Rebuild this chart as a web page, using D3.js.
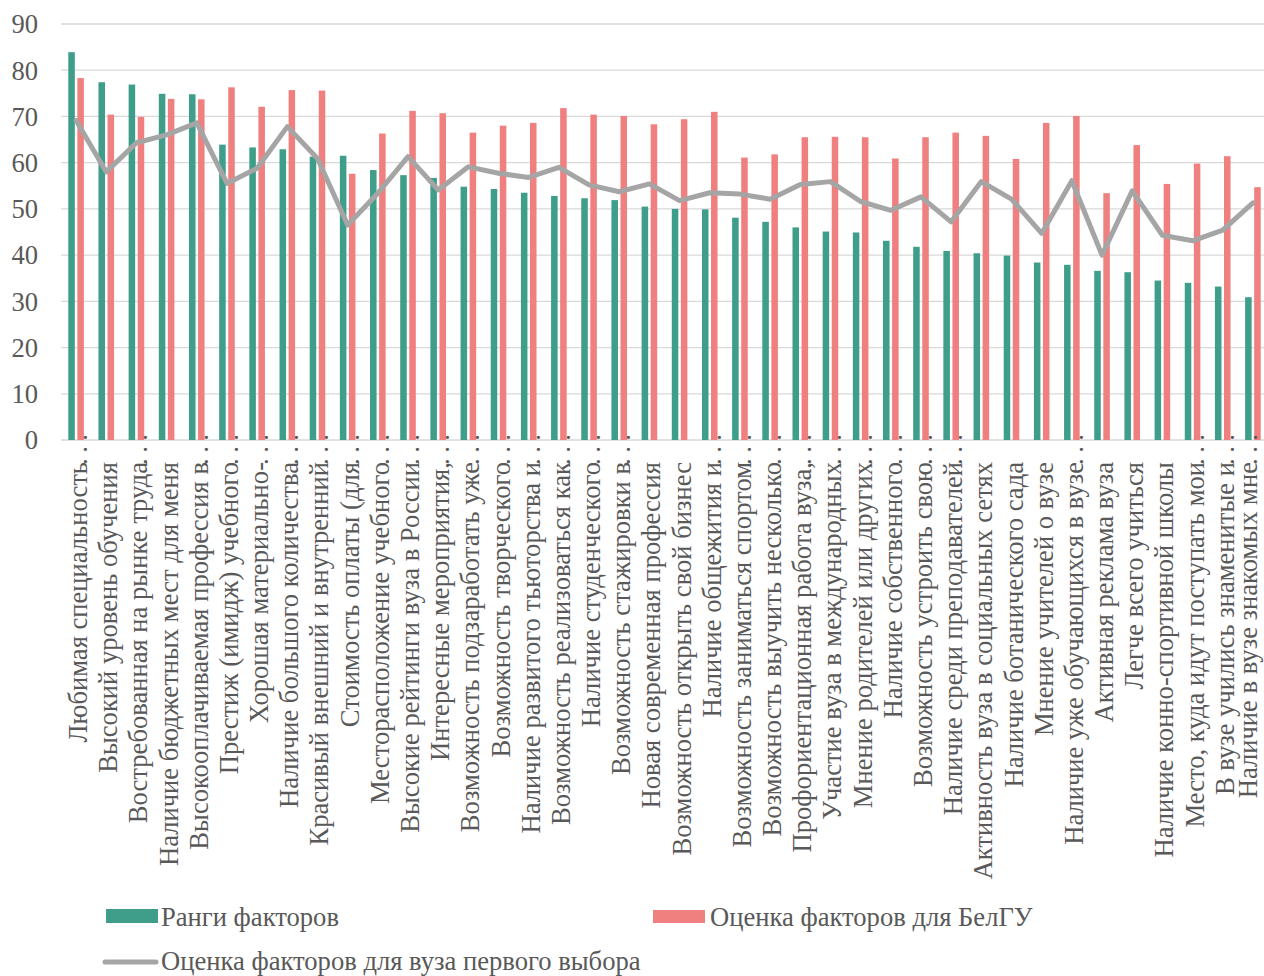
<!DOCTYPE html>
<html><head><meta charset="utf-8">
<script src="https://cdn.jsdelivr.net/npm/d3@7/dist/d3.min.js"></script>
<style>
html,body{margin:0;padding:0;background:#fff;}
svg text{font-family:"Liberation Serif","Times New Roman",serif;fill:#595959;}
</style></head>
<body><svg id="chart" width="1264" height="976"></svg>
<script>
const categories = [
 "Любимая специальность…","Высокий уровень обучения","Востребованная на рынке труда…","Наличие бюджетных мест для меня",
 "Высокооплачиваемая профессия в…","Престиж (имидж) учебного…","Хорошая материально-…","Наличие большого количества…",
 "Красивый внешний и внутренний…","Стоимость оплаты (для…","Месторасположение учебного…","Высокие рейтинги вуза в России…",
 "Интересные мероприятия,…","Возможность подзаработать уже…","Возможность творческого…","Наличие развитого тьюторства и…",
 "Возможность реализоваться как…","Наличие студенческого…","Возможность стажировки в…","Новая современная профессия",
 "Возможность открыть свой бизнес","Наличие общежития и…","Возможность заниматься спортом…","Возможность выучить несколько…",
 "Профориентационная работа вуза,…","Участие вуза в международных…","Мнение родителей или других…","Наличие собственного…",
 "Возможность устроить свою…","Наличие среди преподавателей…","Активность вуза в социальных сетях","Наличие ботанического сада",
 "Мнение учителей о вузе","Наличие уже обучающихся в вузе…","Активная реклама вуза","Легче всего учиться",
 "Наличие конно-спортивной школы","Место, куда идут поступать мои…","В вузе учились знаменитые и…","Наличие в вузе знакомых мне…"
];
const ranks = [83.9,77.4,76.9,74.9,74.8,63.9,63.3,62.9,61.3,61.5,58.4,57.3,56.7,54.8,54.3,53.5,52.8,52.3,51.9,50.5,
 50.0,49.9,48.1,47.2,46.0,45.1,44.9,43.1,41.8,40.9,40.4,39.9,38.4,37.9,36.6,36.3,34.5,34.0,33.2,30.9];
const belsuScores = [78.3,70.4,69.9,73.8,73.7,76.3,72.1,75.7,75.6,57.6,66.3,71.2,70.7,66.5,68.0,68.6,71.8,70.4,70.1,68.3,
 69.4,71.0,61.1,61.8,65.5,65.6,65.5,60.9,65.5,66.5,65.8,60.8,68.6,70.1,53.4,63.8,55.4,59.8,61.4,54.7];
const firstChoiceScores = [69.1,58.0,64.3,66.0,68.6,55.5,58.8,67.8,60.9,46.5,53.4,61.3,54.1,59.1,57.7,56.8,59.0,55.2,53.7,55.4,
 51.8,53.5,53.2,52.1,55.3,55.9,51.6,49.7,52.6,47.2,55.9,52.1,44.7,56.1,40.0,53.9,44.3,43.1,45.4,51.3];
const yTicks = [0,10,20,30,40,50,60,70,80,90];
const seriesNames = ["Ранги факторов","Оценка факторов для БелГУ","Оценка факторов для вуза первого выбора"];
const colors = {rank:"#3e9e8a", belsu:"#f08080", first:"#a5a5a5"};
const FS = 26.6;

const svg = d3.select("#chart");
const x = d3.scaleBand().domain(d3.range(categories.length)).range([61, 1268]);
const y = d3.scaleLinear().domain([0,90]).range([440,24]);
const x1 = d3.scaleBand().domain(["rank","belsu"]).range([-7.8,7.8]).paddingInner(0.28);
const cx = i => x(i) + x.bandwidth()/2;

// gridlines
svg.append("g").selectAll("line").data(yTicks).join("line")
 .attr("x1",61).attr("x2",1264).attr("y1",d=>y(d)).attr("y2",d=>y(d))
 .attr("stroke","#d9d9d9").attr("stroke-width",1.3);

// y axis labels
const yAxis = d3.axisLeft(y).tickValues(yTicks).tickSize(0).tickPadding(0);
const ya = svg.append("g").attr("transform","translate(38,0)").call(yAxis);
ya.select(".domain").remove();
ya.selectAll("text").attr("font-size",FS).attr("font-family","Liberation Serif").attr("fill","#595959").attr("dy","0.33em");

// bars
const data = categories.map((c,i)=>({i, rank:ranks[i], belsu:belsuScores[i]}));
const g = svg.append("g");
g.selectAll("rect.rank").data(data).join("rect").attr("class","rank")
 .attr("x",d=>cx(d.i)+x1("rank")).attr("width",x1.bandwidth())
 .attr("y",d=>y(d.rank)).attr("height",d=>y(0)-y(d.rank)).attr("fill",colors.rank);
g.selectAll("rect.belsu").data(data).join("rect").attr("class","belsu")
 .attr("x",d=>cx(d.i)+x1("belsu")).attr("width",x1.bandwidth())
 .attr("y",d=>y(d.belsu)).attr("height",d=>y(0)-y(d.belsu)).attr("fill",colors.belsu);

// line
const line = d3.line().x((d,i)=>cx(i)).y(d=>y(d));
svg.append("path").datum(firstChoiceScores).attr("d",line)
 .attr("fill","none").attr("stroke",colors.first).attr("stroke-width",5)
 .attr("stroke-linejoin","round").attr("stroke-linecap","round");

// x labels
const xl = svg.append("g");
categories.forEach((c,i)=>{
  const trunc = c.endsWith("…");
  const main = trunc ? c.slice(0,-1) : c;
  const gg = xl.append("g").attr("transform",`translate(${Math.min(cx(i)+11,1257)},462) rotate(-90)`);
  gg.append("text").attr("text-anchor","end").attr("font-size",FS).text(main);
  if (trunc) {
    gg.append("text").attr("text-anchor","start").attr("x",-3).attr("font-size",FS)
      .attr("letter-spacing","5.5px").text("...");
  }
});

// legend
const lg = svg.append("g");
lg.append("rect").attr("x",106).attr("y",909).attr("width",52).attr("height",14).attr("fill",colors.rank);
lg.append("text").attr("x",161).attr("y",926).attr("font-size",FS).text(seriesNames[0]);
lg.append("rect").attr("x",653).attr("y",910).attr("width",52).attr("height",13).attr("fill",colors.belsu);
lg.append("text").attr("x",710).attr("y",926).attr("font-size",FS).text(seriesNames[1]);
lg.append("line").attr("x1",105).attr("x2",156).attr("y1",962).attr("y2",962)
 .attr("stroke",colors.first).attr("stroke-width",5).attr("stroke-linecap","round");
lg.append("text").attr("x",161).attr("y",970).attr("font-size",FS).text(seriesNames[2]);
</script></body></html>
